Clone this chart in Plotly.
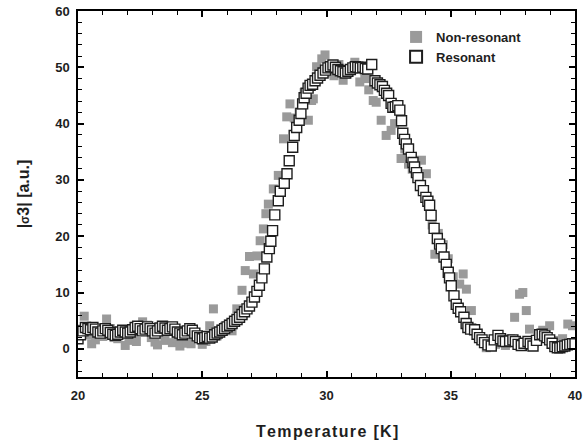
import plotly.graph_objects as go

# resonant (open squares)
res_temp = [
    20.0, 20.1, 20.2, 20.3, 20.4, 20.5, 20.6, 20.7, 20.8, 20.9,
    21.0, 21.1, 21.2, 21.3, 21.4, 21.5, 21.6, 21.7, 21.8, 21.9,
    22.0, 22.1, 22.2, 22.3, 22.4, 22.5, 22.6, 22.7, 22.8, 22.9,
    23.0, 23.1, 23.2, 23.3, 23.4, 23.5, 23.6, 23.7, 23.8, 23.9,
    24.0, 24.1, 24.2, 24.3, 24.4, 24.5, 24.6, 24.7, 24.8, 24.9,
    25.0, 25.1, 25.2, 25.3, 25.4, 25.5, 25.6, 25.7, 25.8, 25.9,
    26.0, 26.1, 26.2, 26.3, 26.4, 26.5, 26.6, 26.7, 26.8, 26.9,
    27.0, 27.1, 27.2, 27.3, 27.4, 27.5, 27.6, 27.7, 27.76, 27.83,
    27.92, 28.06, 28.14, 28.30, 28.41, 28.50, 28.64, 28.70, 28.80, 28.90,
    28.97, 29.04, 29.10, 29.18, 29.26, 29.34, 29.44, 29.54, 29.64, 29.74,
    29.86, 29.96, 30.06, 30.16, 30.26, 30.36, 30.46, 30.56, 30.66, 30.76,
    30.86, 30.96, 31.06, 31.16, 31.26, 31.36, 31.46, 31.56, 31.66, 31.82,
    31.95, 32.05, 32.15, 32.25, 32.33, 32.42, 32.50, 32.60, 32.67, 32.77,
    32.87, 32.95, 33.02, 33.07, 33.14, 33.21, 33.30, 33.41, 33.48, 33.54,
    33.62, 33.68, 33.78, 33.90, 34.00, 34.08, 34.15, 34.21, 34.33, 34.46,
    34.55, 34.62, 34.73, 34.82, 34.90, 34.95, 35.02, 35.13, 35.22, 35.30,
    35.40, 35.53, 35.62, 35.69, 35.80, 35.96, 36.06, 36.16, 36.26, 36.36,
    36.50, 36.63, 36.75, 36.90, 37.00, 37.10, 37.20, 37.37, 37.50, 37.60,
    37.71, 37.84, 37.95, 38.11, 38.20, 38.31, 38.45, 38.58, 38.68, 38.78,
    38.88, 38.98, 39.08, 39.19, 39.29, 39.39, 39.49, 39.59, 39.69, 39.79,
    39.90, 40.00,
]
res_sigma = [
    1.8, 2.5, 3.2, 3.8, 3.6, 3.4, 3.8, 3.5, 3.0, 2.8,
    3.2, 3.6, 3.3, 2.9, 2.6, 2.4, 2.6, 3.0, 3.3, 3.0,
    2.8, 3.0, 3.4, 3.8, 4.0, 3.6, 3.2, 3.5, 3.9, 3.6,
    3.2, 2.8, 3.2, 3.7, 4.0, 3.7, 3.3, 3.6, 3.9, 3.5,
    3.0, 2.8, 2.5, 2.8, 3.2, 3.6, 3.3, 2.8, 2.3, 2.0,
    1.8, 2.0, 2.2, 1.9, 2.1, 2.5, 2.8, 3.0, 3.3, 3.6,
    3.9, 4.2, 4.5, 4.9, 5.2, 5.6, 6.1, 6.6, 7.1, 7.6,
    8.3, 9.2, 10.2, 11.3, 12.6, 14.2, 16.3, 17.8, 19.1, 21.0,
    23.8, 26.3, 28.0, 29.4, 31.1, 33.4, 35.8, 37.9, 39.3, 40.6,
    41.8, 43.5, 44.6, 45.4, 46.3, 46.8, 47.0, 47.6, 48.1, 48.6,
    49.0, 49.5, 49.9, 50.1, 50.4, 50.0, 49.6, 49.4, 49.2, 49.0,
    49.3, 49.6, 49.9, 50.1, 50.0, 49.9, 50.0, 49.8, 49.7, 50.5,
    47.6, 47.2, 46.9, 46.6, 45.9, 45.4, 45.0, 43.6, 42.9, 43.0,
    43.2, 42.4, 40.5, 38.3, 37.2, 36.4, 35.5, 34.0, 33.1, 32.3,
    31.3, 30.4, 29.0, 28.1, 26.9, 26.2, 25.5, 23.7, 21.4, 19.6,
    18.6, 17.8, 16.3, 15.0, 13.6, 12.6, 11.2, 9.4, 7.9, 7.2,
    6.6, 5.6, 4.5, 3.8, 3.5, 3.4, 2.6, 2.0, 1.6, 1.1,
    0.7, 0.5, 1.6, 2.4, 1.8, 1.4, 1.3, 1.4, 1.6, 1.3,
    0.8, 0.6, 1.0, 1.3, 0.9, 0.5, 1.5, 2.5, 2.6, 2.3,
    2.0, 1.6, 1.0, 0.4, 0.2, 0.2, 0.4, 0.5, 0.7, 0.8,
    0.9, 0.9,
]

# non-resonant (filled grey squares)
nonres_temp = [
    20.1, 20.25, 20.4, 20.55, 20.7, 20.85, 21.0, 21.15, 21.3, 21.45,
    21.6, 21.75, 21.9, 22.05, 22.2, 22.35, 22.5, 22.6, 22.8, 22.95,
    23.1, 23.2, 23.35, 23.5, 23.65, 23.8, 23.95, 24.1, 24.25, 24.4,
    24.55, 24.7, 24.85, 25.0, 25.15, 25.3, 25.45, 25.6, 25.75, 25.9,
    26.05, 26.2, 26.39, 26.5, 26.6, 26.73, 26.9, 27.06, 27.2, 27.33,
    27.46, 27.56, 27.66, 27.86, 28.06, 28.27, 28.4, 28.53, 28.7, 28.9,
    29.1, 29.27, 29.4, 29.47, 29.6, 29.81, 29.94, 30.1, 30.3, 30.5,
    30.67, 30.85, 31.0, 31.14, 31.34, 31.54, 31.7, 31.88, 32.0, 32.2,
    32.4, 32.6, 32.74, 33.0, 33.15, 33.3, 33.45, 33.6, 33.82, 34.02,
    34.1, 34.25, 34.36, 34.5, 34.7, 34.9, 35.1, 35.36, 35.5, 35.63,
    35.83, 36.0, 36.2, 36.43, 36.6, 36.8, 37.0, 37.2, 37.4, 37.57,
    37.77, 37.9, 38.04, 38.17, 38.35, 38.5, 38.7, 38.85, 38.98, 39.15,
    39.3, 39.5, 39.71, 39.9,
]
nonres_sigma = [
    3.5, 5.8, 2.5, 0.9, 1.6, 3.0, 2.2, 5.3, 3.6, 2.0,
    1.8, 2.8, 0.6, 1.5, 2.4, 1.3, 3.2, 4.8, 4.2, 2.0,
    1.2, 0.7, 2.5, 1.5, 3.8, 1.1, 2.0, 0.5, 1.8, 1.0,
    0.9, 2.6, 2.0, 0.8, 1.3, 4.1, 7.1, 2.3, 3.5, 4.0,
    4.4, 3.2, 7.1, 6.5, 10.4, 13.9, 16.4, 13.3, 16.5, 19.2,
    21.3, 24.0, 25.7, 28.4, 30.8, 37.3, 41.2, 43.5, 41.0, 42.0,
    45.5, 40.6, 44.1, 44.4, 50.1, 51.5, 52.2, 49.0, 48.5, 50.5,
    47.7, 48.8, 49.5, 50.9, 47.4, 48.0, 46.0, 44.1, 43.8, 40.6,
    37.9, 38.8, 40.0, 33.8, 35.5, 32.8, 31.9, 33.0, 33.5, 31.1,
    25.4, 22.0, 16.8, 20.5, 18.5, 16.0, 12.8, 11.5, 13.3, 10.6,
    6.8, 3.2, 1.5, 0.2, 1.2, 0.8, 1.9, 0.6, 1.8, 5.6,
    9.7, 10.0, 6.8, 3.5, 1.0, 2.4, 3.3, 2.8, 4.1, 1.5,
    0.6, 1.8, 4.4, 4.1,
]

x_ticks = [20, 25, 30, 35, 40]
y_ticks = [0, 10, 20, 30, 40, 50, 60]

font_family = "Liberation Sans, Arial, sans-serif"
ink = "#1e1e1e"

fig = go.Figure()
fig.add_trace(go.Scatter(
    x=nonres_temp, y=nonres_sigma, mode="markers", name="Non-resonant",
    marker=dict(symbol="square", size=9, color="#9a9a9a", line=dict(width=0)),
))
fig.add_trace(go.Scatter(
    x=res_temp, y=res_sigma, mode="markers", name="Resonant",
    marker=dict(symbol="square", size=10, color="white",
                line=dict(color=ink, width=1.4)),
))

axis_common = dict(
    showgrid=False, zeroline=False, showline=True, linecolor="black",
    linewidth=1.5, mirror="allticks", ticks="inside", ticklen=6,
    tickwidth=1.5, tickcolor="black", automargin=False,
    tickfont=dict(family=font_family, size=13, color=ink, weight="bold"),
)

fig.update_xaxes(
    range=[20, 40], tickvals=x_ticks, ticklabelstandoff=6,
    minor=dict(dtick=1, ticks="inside", ticklen=4, tickwidth=1.2, tickcolor="black"),
    **axis_common,
)
fig.update_yaxes(
    range=[-5, 60], tickvals=y_ticks, ticklabelstandoff=4,
    minor=dict(dtick=2, ticks="inside", ticklen=4, tickwidth=1.2, tickcolor="black"),
    title=dict(text="|<span style='font-size:12px'>σ</span>3| [a.u.]", standoff=22,
               font=dict(family=font_family, size=16, color=ink, weight="bold")),
    **axis_common,
)

# x title as an annotation, placed where the original has it
hair = "\u200a"
fig.add_annotation(
    text=hair.join("Temperature [K]"), xref="paper", yref="paper",
    x=0.5, y=-0.150, xanchor="center", yanchor="middle", showarrow=False,
    font=dict(family=font_family, size=16, color=ink, weight="bold"),
)

fig.update_layout(
    width=588, height=443,
    margin=dict(l=78, r=13, t=11, b=66),
    plot_bgcolor="white", paper_bgcolor="white",
    showlegend=True,
    legend=dict(x=0.64, y=0.97, xanchor="left", yanchor="top",
                bgcolor="rgba(0,0,0,0)", borderwidth=0,
                font=dict(family=font_family, size=13, color=ink, weight="bold"),
                itemsizing="constant", tracegroupgap=0),
)

# drop the default page margin so the figure sits at the window corner
fig.write_html("out.html", config={"displayModeBar": False},
               post_script="document.body.style.margin='0';")
